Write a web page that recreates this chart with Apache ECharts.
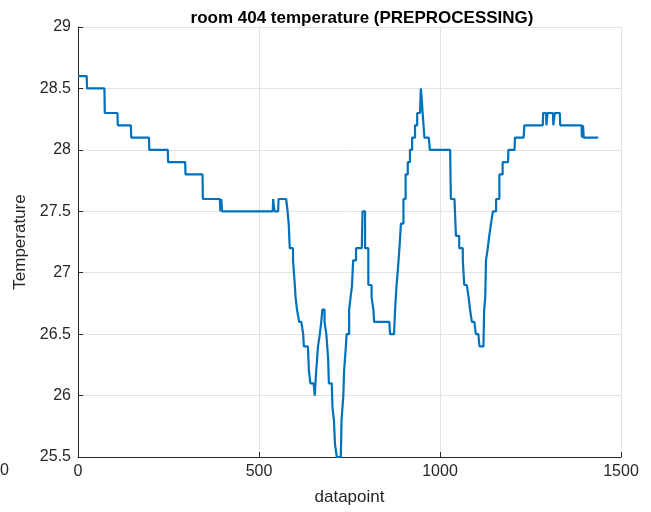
<!DOCTYPE html>
<html>
<head>
<meta charset="utf-8">
<script src="https://cdn.jsdelivr.net/npm/echarts@6/dist/echarts.min.js"></script>
<style>
html,body{margin:0;padding:0;background:#fff;}
#chart{width:651px;height:512px;}
</style>
</head>
<body>
<div id="chart"></div>
<script>
// datapoint index of each vertex of the trace
var datapoints = [0,24,25,73,74,109,110,146,147,196,197,248,249,296,297,344,345,392,393,395,396,397,398,538,539,542,543,553,554,575,579,582,585,589,594,599,601,605,610,611,617,622,624,635,638,642,651,654,658,663,668,672,675,679,681,686,691,693,701,703,707,710,715,726,728,733,735,740,742,749,753,757,760,765,768,784,786,790,793,797,802,807,811,816,818,860,862,873,876,880,883,888,892,899,905,911,917,923,931,937,945,947,950,952,957,969,972,1028,1030,1040,1044,1049,1053,1058,1063,1067,1074,1079,1083,1088,1095,1099,1106,1109,1120,1122,1125,1127,1132,1136,1141,1146,1150,1155,1159,1164,1168,1173,1188,1189,1206,1207,1231,1233,1284,1285,1293,1294,1296,1297,1312,1313,1316,1317,1331,1332,1391,1392,1394,1395,1396,1397,1437];
// temperature at each vertex
var temperature = [28.6,28.6,28.5,28.5,28.3,28.3,28.2,28.2,28.1,28.1,28.0,28.0,27.9,27.9,27.8,27.8,27.6,27.6,27.5,27.5,27.6,27.6,27.5,27.5,27.6,27.6,27.5,27.5,27.6,27.6,27.5,27.4,27.2,27.2,27.1,26.9,26.8,26.7,26.7,26.6,26.6,26.5,26.4,26.4,26.2,26.1,26.1,26.0,26.2,26.4,26.5,26.6,26.7,26.7,26.6,26.5,26.3,26.1,26.1,25.9,25.8,25.6,25.5,25.5,25.8,26.0,26.2,26.4,26.5,26.7,26.8,26.9,27.1,27.1,27.2,27.2,27.5,27.5,27.2,27.2,26.9,26.9,26.8,26.7,26.6,26.6,26.5,26.5,26.7,26.9,27.0,27.2,27.4,27.6,27.8,27.9,28.0,28.1,28.2,28.3,28.3,28.5,28.4,28.3,28.1,28.1,28.0,28.0,27.6,27.6,27.3,27.3,27.2,27.2,27.1,26.9,26.9,26.8,26.7,26.6,26.6,26.5,26.5,26.4,26.4,26.7,26.8,27.1,27.2,27.3,27.4,27.5,27.5,27.6,27.6,27.8,27.8,27.9,27.9,28.0,28.0,28.1,28.1,28.2,28.2,28.3,28.3,28.2,28.2,28.3,28.3,28.2,28.2,28.3,28.3,28.2,28.2,28.1,28.1,28.2,28.2,28.1,28.1];
var xTicks = [0, 500, 1000, 1500];
var yTicks = [25.5, 26, 26.5, 27, 27.5, 28, 28.5, 29];
var titleText = 'room 404 temperature (PREPROCESSING)';
var xName = 'datapoint';
var yName = 'Temperature';

var pts = datapoints.map(function (d, i) { return [d, temperature[i]]; });
var chart = echarts.init(document.getElementById('chart'), null, {renderer: 'canvas'});
var font = 'Liberation Sans, Arial, Helvetica, sans-serif';
var ink = '#262626';
chart.setOption({
  animation: false,
  backgroundColor: '#ffffff',
  title: {
    text: titleText,
    left: 357, top: 5, textAlign: 'center',
    textStyle: {fontFamily: font, fontWeight: 'bold', fontSize: 17, color: '#000'}
  },
  grid: {left: 78, right: 30, top: 27, bottom: 55, containLabel: false},
  xAxis: {
    type: 'value', min: xTicks[0], max: xTicks[xTicks.length - 1], interval: 500,
    name: xName, nameLocation: 'middle', nameGap: 32,
    nameTextStyle: {fontFamily: font, fontSize: 17, color: ink},
    axisLine: {show: true, onZero: false, lineStyle: {color: ink, width: 1}},
    axisTick: {show: true, inside: true, length: 5, lineStyle: {color: ink}},
    axisLabel: {fontFamily: font, fontSize: 16, color: ink, margin: 7,
      formatter: function (v) { return String(v); }},
    splitLine: {show: true, lineStyle: {color: '#e3e3e3', width: 1}}
  },
  yAxis: {
    type: 'value', min: yTicks[0], max: yTicks[yTicks.length - 1], interval: 0.5,
    name: yName, nameLocation: 'middle', nameGap: 41,
    nameTextStyle: {fontFamily: font, fontSize: 17, color: ink},
    axisLine: {show: true, onZero: false, lineStyle: {color: ink, width: 1}},
    axisTick: {show: true, inside: true, length: 5, lineStyle: {color: ink}},
    axisLabel: {fontFamily: font, fontSize: 16, color: ink, margin: 7,
      formatter: function (v) { return String(v); }},
    splitLine: {show: true, lineStyle: {color: '#e3e3e3', width: 1}}
  },
  graphic: [{
    type: 'text', left: 0, top: 463,
    style: {text: '0', fontFamily: font, fontSize: 16, fill: ink}
  }],
  series: [{
    type: 'line', data: pts, showSymbol: false, symbol: 'none', step: 'end',
    lineStyle: {color: '#0072BD', width: 2.2}, clip: true
  }]
});
</script>
</body>
</html>
